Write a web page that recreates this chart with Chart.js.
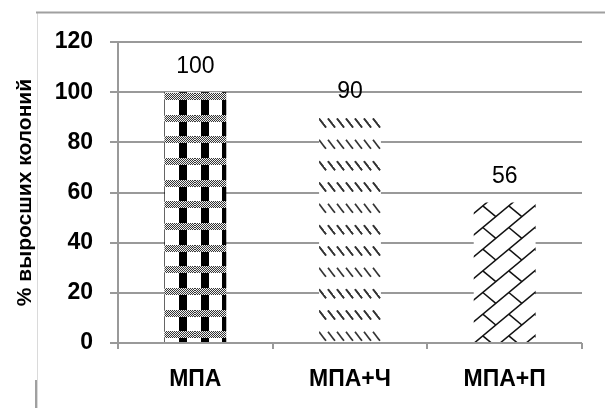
<!DOCTYPE html>
<html>
<head>
<meta charset="utf-8">
<script src="https://cdn.jsdelivr.net/npm/chart.js@4"></script>
<style>
  html, body { margin: 0; padding: 0; background: #fff; }
  canvas { display: block; }
</style>
</head>
<body>
<canvas id="myChart" width="606" height="408"></canvas>
<script>
'use strict';

// data
var categories = ['МПА', 'МПА+Ч', 'МПА+П'];
var values = [100, 90, 56];
var yTitle = '% выросших колоний';
var yMin = 0;
var yMax = 120;
var yStep = 20;

var FONT = "'Liberation Sans', Arial, sans-serif";
var GRID = '#999999';

function makeTile(w, h, draw) {
  var c = document.createElement('canvas');
  c.width = w;
  c.height = h;
  var g = c.getContext('2d');
  g.fillStyle = '#fff';
  g.fillRect(0, 0, w, h);
  draw(g, w, h);
  return c;
}

var ctx = document.getElementById('myChart').getContext('2d');

// bar 1: dotted bands over black/white columns
var tile1 = makeTile(65, 65, function (g, w, h) {
  var p = w / 3;
  var k, x, y, i, j;
  g.fillStyle = '#000';
  for (k = -4; k < 8; k++) {
    x = Math.round(49 + k * p);
    g.fillRect(x, 0, 8, h);
  }
  for (k = -4; k < 8; k++) {
    y = Math.round(28 + k * p);
    for (j = 0; j < 7; j++) {
      for (i = 0; i < w; i++) {
        var yy = y + j;
        if (yy < 0 || yy >= h) continue;
        g.fillStyle = ((i + j) % 2 === 0) ? '#333' : '#f2f2f2';
        g.fillRect(i, yy, 1, 1);
      }
    }
  }
});

// bar 2: short backslash dashes
var tile2 = makeTile(9, 64, function (g, w, h) {
  var p = h / 3;
  g.strokeStyle = '#333';
  g.lineWidth = 1.7;
  for (var k = -1; k < 5; k++) {
    var yc = 59 + k * p;
    [-9, 0, 9].forEach(function (dx) {
      [-h, 0, h].forEach(function (dy) {
        g.beginPath();
        g.moveTo(4 + dx, yc - 4.5 + dy);
        g.lineTo(11 + dx, yc + 4.5 + dy);
        g.stroke();
      });
    });
  }
});

// bar 3: diagonal brick
var tile3 = makeTile(78, 65, function (g, w, h) {
  var Q = w / 3;
  var P = h / 3;
  var c = 0.07;
  var i, j, k;
  g.strokeStyle = '#111';
  g.lineWidth = 1.5;
  // "/" lines where x/Q + y/P = c + k
  for (k = -6; k < 12; k++) {
    g.beginPath();
    g.moveTo(Q * (c + k + 2), -2 * P);
    g.lineTo(Q * (c + k - 6), 6 * P);
    g.stroke();
  }
  // short "\" joints between them
  for (i = -3; i < 5; i++) {
    for (j = -2; j < 5; j++) {
      g.beginPath();
      g.moveTo(Q * (c + i + 0.5), P * (j + 0.5));
      g.lineTo(Q * (c + i + 1), P * (j + 1));
      g.stroke();
    }
  }
});

var fills = [
  ctx.createPattern(tile1, 'repeat'),
  ctx.createPattern(tile2, 'repeat'),
  ctx.createPattern(tile3, 'repeat')
];

// white page + light frame lines of the original figure
var framePlugin = {
  id: 'frame',
  beforeDraw: function (chart) {
    var c = chart.ctx;
    c.save();
    c.fillStyle = '#fff';
    c.fillRect(0, 0, chart.width, chart.height);
    c.strokeStyle = '#dadada';
    c.lineWidth = 1;
    c.beginPath();
    c.moveTo(37.5, 12);
    c.lineTo(37.5, chart.height);
    c.stroke();
    c.strokeStyle = '#a0a0a0';
    c.lineWidth = 2;
    c.beginPath();
    c.moveTo(36, 12.5);
    c.lineTo(605, 12.5);
    c.stroke();
    c.beginPath();
    c.moveTo(36, 380);
    c.lineTo(36, chart.height);
    c.stroke();
    c.restore();
  }
};

// value labels above the bars
var valueLabels = {
  id: 'valueLabels',
  afterDatasetsDraw: function (chart) {
    var c = chart.ctx;
    var meta = chart.getDatasetMeta(0);
    c.save();
    c.fillStyle = '#000';
    c.font = '23px ' + FONT;
    c.textAlign = 'center';
    c.textBaseline = 'middle';
    meta.data.forEach(function (bar, i) {
      c.fillText(String(values[i]), bar.x, bar.y - 26);
    });
    c.restore();
  }
};

var myChart = new Chart(ctx, {
  type: 'bar',
  data: {
    labels: categories,
    datasets: [{
      data: values,
      backgroundColor: fills,
      borderWidth: 0,
      barPercentage: 0.4,
      categoryPercentage: 1
    }]
  },
  options: {
    responsive: false,
    animation: false,
    events: [],
    layout: { padding: { left: 0, top: 42, right: 24, bottom: 0 } },
    plugins: {
      legend: { display: false },
      tooltip: { enabled: false }
    },
    scales: {
      x: {
        offset: true,
        grid: {
          offset: true,
          drawOnChartArea: false,
          drawTicks: true,
          tickLength: 6,
          color: GRID,
          lineWidth: 2
        },
        border: { display: false },
        ticks: {
          color: '#000',
          padding: 17,
          maxRotation: 0,
          font: { family: FONT, size: 23, weight: 'bold' }
        },
        afterFit: function (scale) { scale.height = 65; }
      },
      y: {
        min: yMin,
        max: yMax,
        grid: {
          color: GRID,
          lineWidth: 2,
          tickLength: 8
        },
        border: { display: true, color: GRID, width: 2 },
        ticks: {
          stepSize: yStep,
          color: '#000',
          padding: 17,
          font: { family: FONT, size: 23, weight: 'bold' }
        },
        title: {
          display: true,
          text: yTitle,
          color: '#000',
          padding: { top: 13, bottom: 0 },
          font: { family: FONT, size: 21, weight: 'bold' }
        },
        afterFit: function (scale) { scale.width = 118; }
      }
    }
  },
  plugins: [framePlugin, valueLabels]
});
</script>
</body>
</html>
